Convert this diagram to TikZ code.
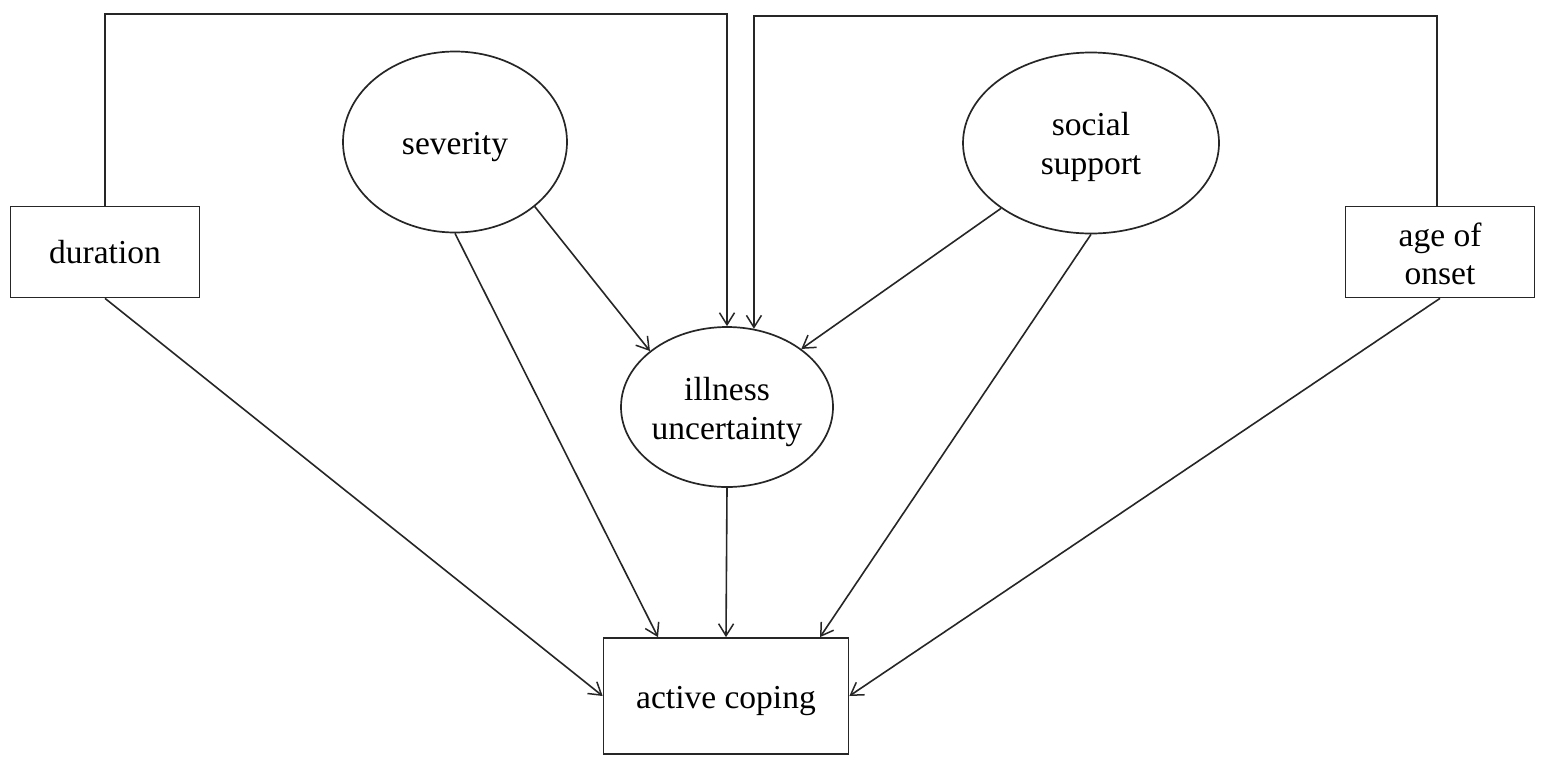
\documentclass[tikz,border=0pt]{standalone}
\usepackage{fontspec}
\setmainfont{Liberation Serif}
\usetikzlibrary{shapes.geometric,arrows.meta}
\begin{document}
\begin{tikzpicture}[x=1pt,y=-1pt,
  every node/.style={font=\fontsize{33.5}{38.5}\selectfont, align=center, inner sep=0pt},
  every label/.style={draw=none},
  boxnode/.style={rectangle, draw=black!85, line width=1.7pt},
  ellnode/.style={ellipse, draw=black!85, line width=1.7pt},
  conn/.style={draw=black!85, line width=1.6pt, -{Straight Barb[length=12pt,width=15pt,line width=1.5pt]}}]
\useasboundingbox (0,0) rectangle (1547,766);
\fill[white] (0,0) rectangle (1547,766);
\node[boxnode, minimum width=189pt, minimum height=91pt] (dur) at (105,252) {duration};
\node[boxnode, minimum width=189pt, minimum height=91pt] (age) at (1440,252) {};
\node[boxnode, minimum width=245pt, minimum height=116pt] (act) at (726,696) {};
\node[ellnode, minimum width=224pt, minimum height=181pt] (sev) at (455,142) {};
\node[ellnode, minimum width=256pt, minimum height=181pt] (soc) at (1091,143) {};
\node[ellnode, minimum width=212pt, minimum height=160pt] (ill) at (727,407) {};
\node[anchor=center] (agetxt) at ([yshift=-2pt]age.center) {age of\\onset};
\node[anchor=center] (acttxt) at ([yshift=-5pt]act.center) {active coping};
\node[anchor=center] (sevtxt) at ([yshift=-5pt]sev.center) {severity};
\node[anchor=center] (soctxt) at ([yshift=-4pt]soc.center) {social\\support};
\node[anchor=center] (illtxt) at ([yshift=-5pt]ill.center) {illness\\uncertainty};
\coordinate (t1) at (0,14);
\coordinate (t2) at (0,16);
\draw[conn] (dur.north) -- (dur.north |- t1) -| (ill.north);
\draw[conn] ([xshift=-3pt]age.north) -- ([xshift=-3pt]age.north |- t2) -| (ill.71.5);
\draw[conn] (sev.-39.5) -- (ill.144.5);
\draw[conn] (sev.south) -- ([xshift=-68pt]act.north);
\draw[conn] (soc.-144.5) -- (ill.38.9);
\draw[conn] (soc.south) -- ([xshift=94pt]act.north);
\draw[conn] (dur.south) -- (act.west);
\draw[conn] (age.south) -- (act.east);
\draw[conn] (ill.south) -- (act.north);
\end{tikzpicture}
\end{document}
